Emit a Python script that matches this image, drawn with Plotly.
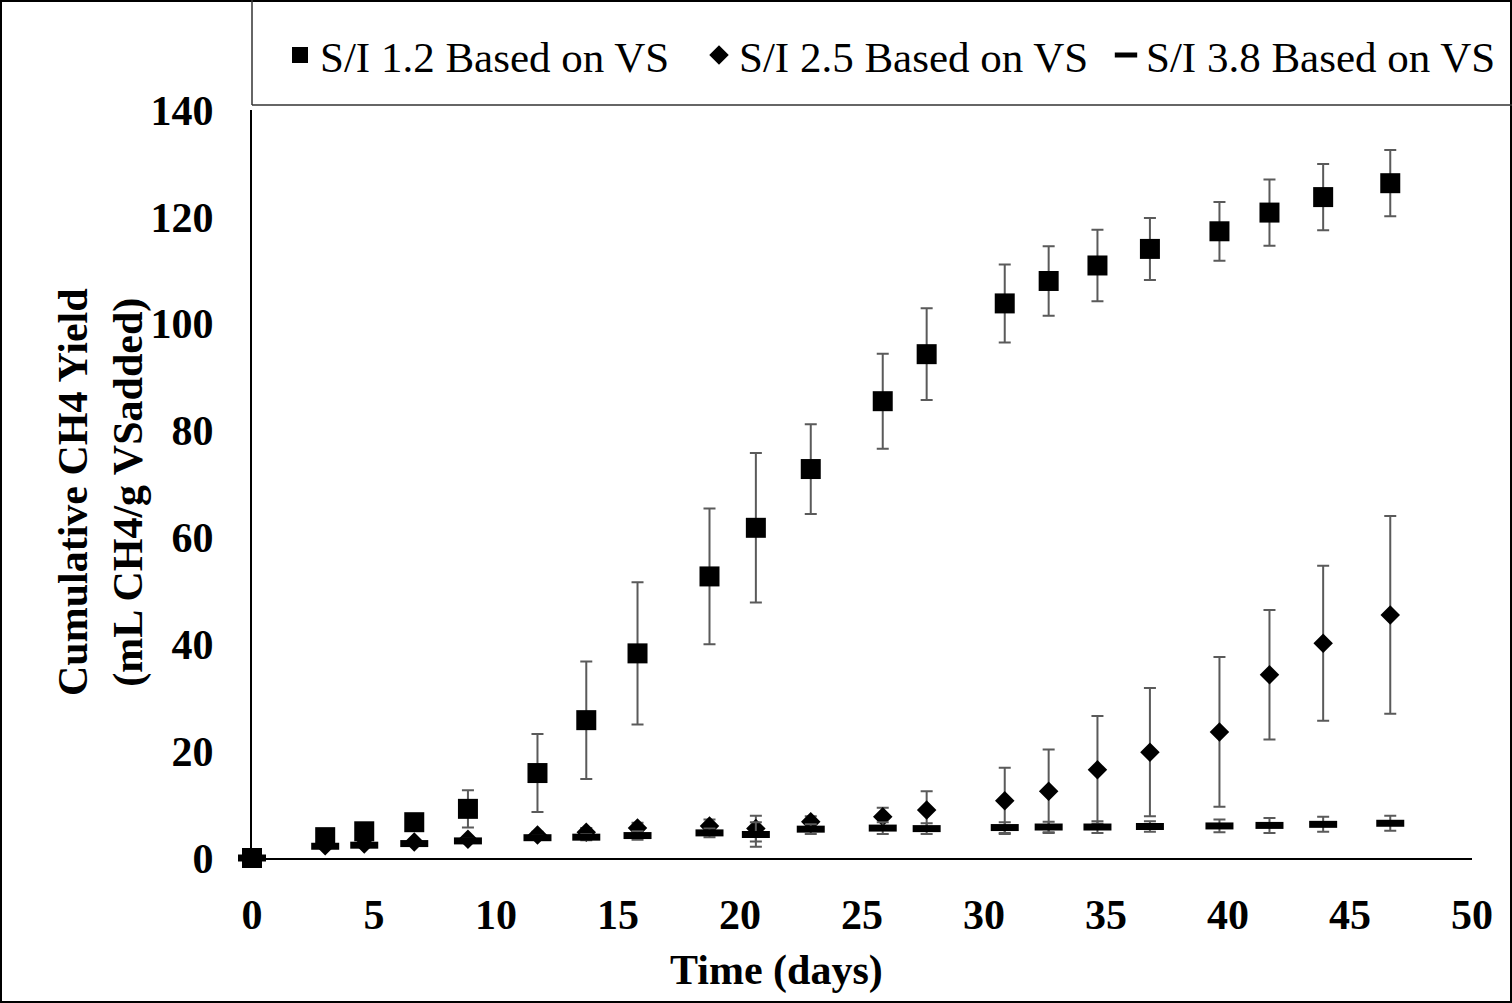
import plotly.graph_objects as go

# ---- data ----
days = [0, 3.0, 4.6, 6.65, 8.85, 11.7, 13.7, 15.8, 18.75, 20.65, 22.9, 25.85, 27.65,
        30.85, 32.65, 34.65, 36.8, 39.65, 41.7, 43.9, 46.65]

si12 = [0, 3.9, 5.0, 6.7, 9.2, 15.9, 25.8, 38.3, 52.7, 61.8, 72.8, 85.5, 94.3,
        103.8, 108.0, 110.9, 114.0, 117.3, 120.8, 123.7, 126.3]
si12_err = [0, 0.5, 0.6, 0.8, 3.5, 7.3, 11.0, 13.3, 12.7, 14.0, 8.4, 8.9, 8.6,
            7.3, 6.5, 6.7, 5.8, 5.5, 6.2, 6.2, 6.2]

si25 = [0, 2.3, 2.6, 3.0, 3.5, 4.3, 4.8, 5.6, 6.0, 5.5, 6.8, 7.7, 9.0,
        10.7, 12.5, 16.5, 19.8, 23.6, 34.3, 40.2, 45.5]
si25_err = [0, 0.3, 0.3, 0.4, 0.5, 0.6, 0.8, 1.0, 1.2, 2.4, 1.0, 1.7, 3.5,
            6.2, 7.8, 10.1, 12.0, 14.0, 12.1, 14.5, 18.5]

si38 = [0, 2.2, 2.4, 2.7, 3.2, 3.8, 3.9, 4.2, 4.7, 4.4, 5.4, 5.6, 5.5,
        5.7, 5.8, 5.8, 5.9, 6.0, 6.1, 6.3, 6.5]
si38_err = [0, 0.2, 0.2, 0.3, 0.4, 0.4, 0.6, 0.8, 0.8, 2.3, 0.9, 1.1, 1.0,
            1.0, 1.0, 1.1, 1.0, 1.2, 1.4, 1.4, 1.4]

names = ["S/I 1.2 Based on VS", "S/I 2.5 Based on VS", "S/I 3.8 Based on VS"]
x_ticks = [0, 5, 10, 15, 20, 25, 30, 35, 40, 45, 50]
y_ticks = [0, 20, 40, 60, 80, 100, 120, 140]
x_title = "Time (days)"
y_title = "Cumulative CH4 Yield<br>(mL CH4/g VSadded)"

FONT = "Times New Roman, Liberation Serif, serif"
ERR = "#5a5a5a"

W, H = 1512, 1003
L, R, T, B = 252, 40, 110, 145
PW, PH = W - L - R, H - T - B


def px(xp):
    return (xp - L) / PW


def py(yp):
    return (H - B - yp) / PH


fig = go.Figure()

fig.add_trace(go.Scatter(
    x=days, y=si12, mode="markers", name=names[0], cliponaxis=False,
    legend="legend",
    marker=dict(symbol="square", size=20, color="black"),
    error_y=dict(type="data", array=si12_err, color=ERR, thickness=2, width=6),
))
fig.add_trace(go.Scatter(
    x=days, y=si25, mode="markers", name=names[1], cliponaxis=False,
    legend="legend2",
    marker=dict(symbol="diamond", size=15, color="black"),
    error_y=dict(type="data", array=si25_err, color=ERR, thickness=2, width=6),
))
fig.add_trace(go.Scatter(
    x=days, y=si38, mode="markers", name=names[2], cliponaxis=False,
    legend="legend3",
    marker=dict(symbol="line-ew", size=20, color="black",
                line=dict(color="black", width=7)),
    error_y=dict(type="data", array=si38_err, color=ERR, thickness=2, width=6),
))

shapes = [
    # outer frame
    dict(type="rect", xref="paper", yref="paper",
         x0=px(1), x1=px(W - 1), y0=py(H - 1), y1=py(1),
         line=dict(color="black", width=2), layer="above"),
    # legend box left edge
    dict(type="line", xref="paper", yref="paper",
         x0=px(252), x1=px(252), y0=py(0), y1=py(105),
         line=dict(color="#333333", width=1.5)),
    # legend box bottom edge
    dict(type="line", xref="paper", yref="paper",
         x0=px(252), x1=px(W), y0=py(105), y1=py(105),
         line=dict(color="#333333", width=1.5)),
]

title_font = dict(family=FONT, size=42, color="black", weight="bold")
annotations = [
    dict(text=x_title, xref="paper", yref="paper", x=px(776), y=py(970),
         xanchor="center", yanchor="middle", showarrow=False, font=title_font),
    dict(text=y_title, xref="paper", yref="paper", x=px(101), y=py(492),
         xanchor="center", yanchor="middle", showarrow=False, textangle=-90,
         font=title_font),
]


def legend_at(xp):
    return dict(
        orientation="h", x=px(xp), xanchor="left", y=py(55), yanchor="middle",
        font=dict(family=FONT, size=43, color="black"),
        bgcolor="rgba(0,0,0,0)", borderwidth=0,
    )


fig.update_layout(
    width=W, height=H,
    margin=dict(l=L, r=R, t=T, b=B, autoexpand=False),
    paper_bgcolor="white", plot_bgcolor="white",
    font=dict(family=FONT, color="black"),
    shapes=shapes,
    annotations=annotations,
    showlegend=True,
    legend=legend_at(280),
    legend2=legend_at(699),
    legend3=legend_at(1106),
    xaxis=dict(
        range=[0, 50], tickvals=x_ticks, ticks="", showgrid=False, zeroline=False,
        showline=True, linecolor="black", linewidth=2,
        tickfont=dict(family=FONT, size=42, color="black", weight="bold"),
        ticklabelstandoff=19,
    ),
    yaxis=dict(
        range=[0, 140], tickvals=y_ticks, ticks="", showgrid=False, zeroline=False,
        showline=True, linecolor="black", linewidth=2,
        tickfont=dict(family=FONT, size=42, color="black", weight="bold"),
        ticklabelstandoff=28,
    ),
)

fig.write_html("out.html")
